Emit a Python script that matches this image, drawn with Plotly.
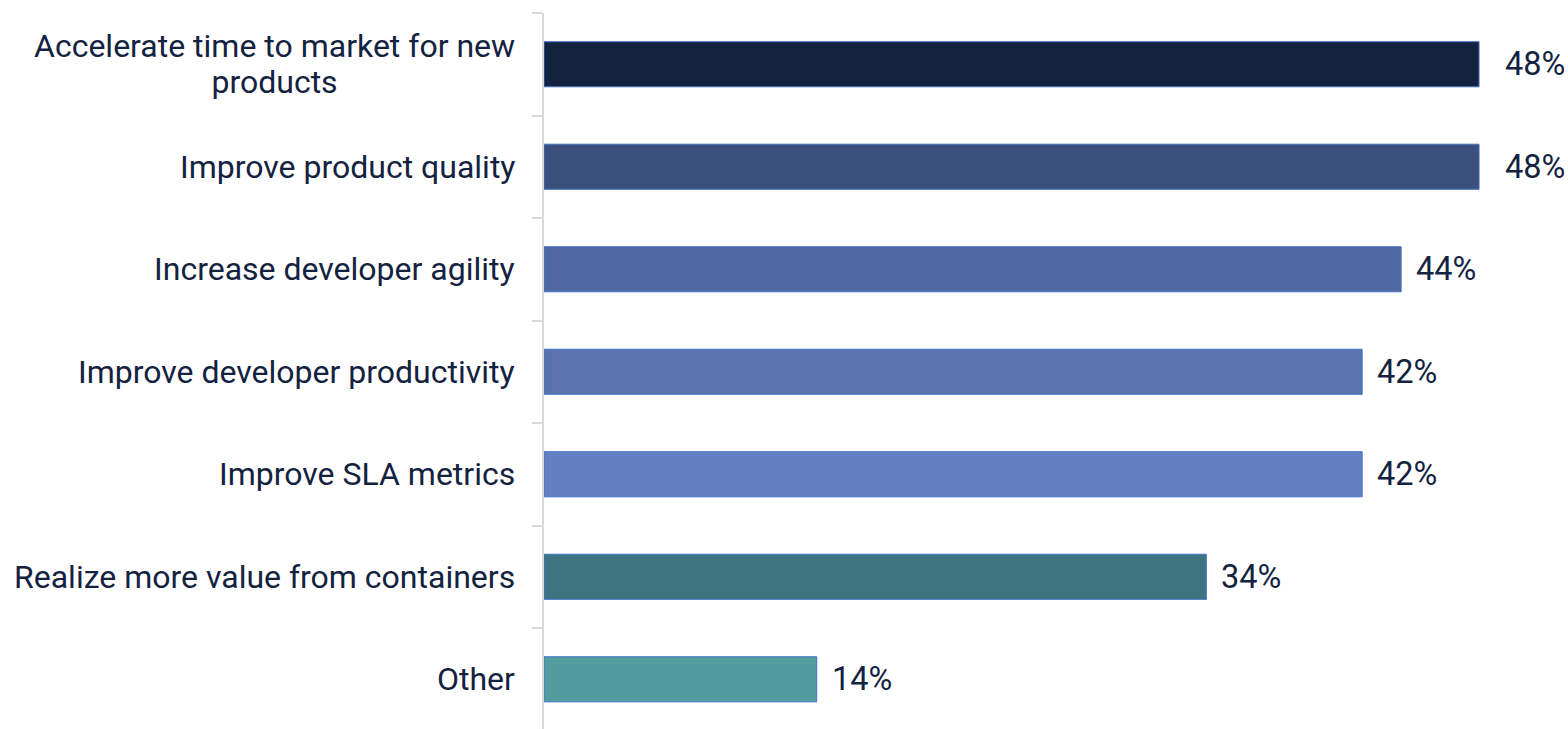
import plotly.graph_objects as go

categories = [
    "Accelerate time to market for new<br>products",
    "Improve product quality",
    "Increase developer agility",
    "Improve developer productivity",
    "Improve SLA metrics",
    "Realize more value from containers",
    "Other",
]
values = [48, 48, 44, 42, 42, 34, 14]
value_labels = ["48%", "48%", "44%", "42%", "42%", "34%", "14%"]
bar_colors = ["#13233F", "#3B507D", "#4F68A0", "#5A73AF", "#6480C0", "#3E7480", "#529C9F"]

TEXT = "#13223F"
FONT = "Roboto"

fig = go.Figure()
fig.add_trace(go.Bar(
    x=values,
    y=categories,
    orientation="h",
    width=0.44,
    marker=dict(color=bar_colors, line=dict(color="#4472C4", width=1)),
    hoverinfo="skip",
))

vmax = max(values)
for cat, v, lab in zip(categories, values, value_labels):
    fig.add_annotation(x=v, y=cat, xref="x", yref="y", text=lab, showarrow=False,
                       xanchor="left", yanchor="middle", xshift=24 if v == vmax else 13,
                       font=dict(family=FONT, size=32.5, color=TEXT))
    styled = "<br>".join('<span style="font-size:32px">%s</span>' % part for part in cat.split("<br>"))
    fig.add_annotation(x=0, y=cat, xref="paper", yref="y", text=styled, showarrow=False,
                       xanchor="right", yanchor="middle", xshift=-27, align="center",
                       font=dict(family=FONT, size=27.7, color=TEXT))

fig.update_layout(
    width=1568, height=729,
    margin=dict(l=544, r=0, t=13, b=0),
    paper_bgcolor="white", plot_bgcolor="white",
    showlegend=False,
    font=dict(family=FONT, color=TEXT),
    xaxis=dict(range=[0, 1024 / 19.48], visible=False, fixedrange=True),
    yaxis=dict(
        categoryorder="array", categoryarray=categories,
        range=[6.485, -0.5],
        showticklabels=False, showgrid=False,
        showline=True, linecolor="#D9D9D9", linewidth=2,
        ticks="outside", tickson="boundaries", ticklen=10, tickcolor="#D9D9D9", tickwidth=2,
        zeroline=False, fixedrange=True,
    ),
)

fig.write_html("out.html", config={"displayModeBar": False},
               post_script="document.body.style.margin='0';")
